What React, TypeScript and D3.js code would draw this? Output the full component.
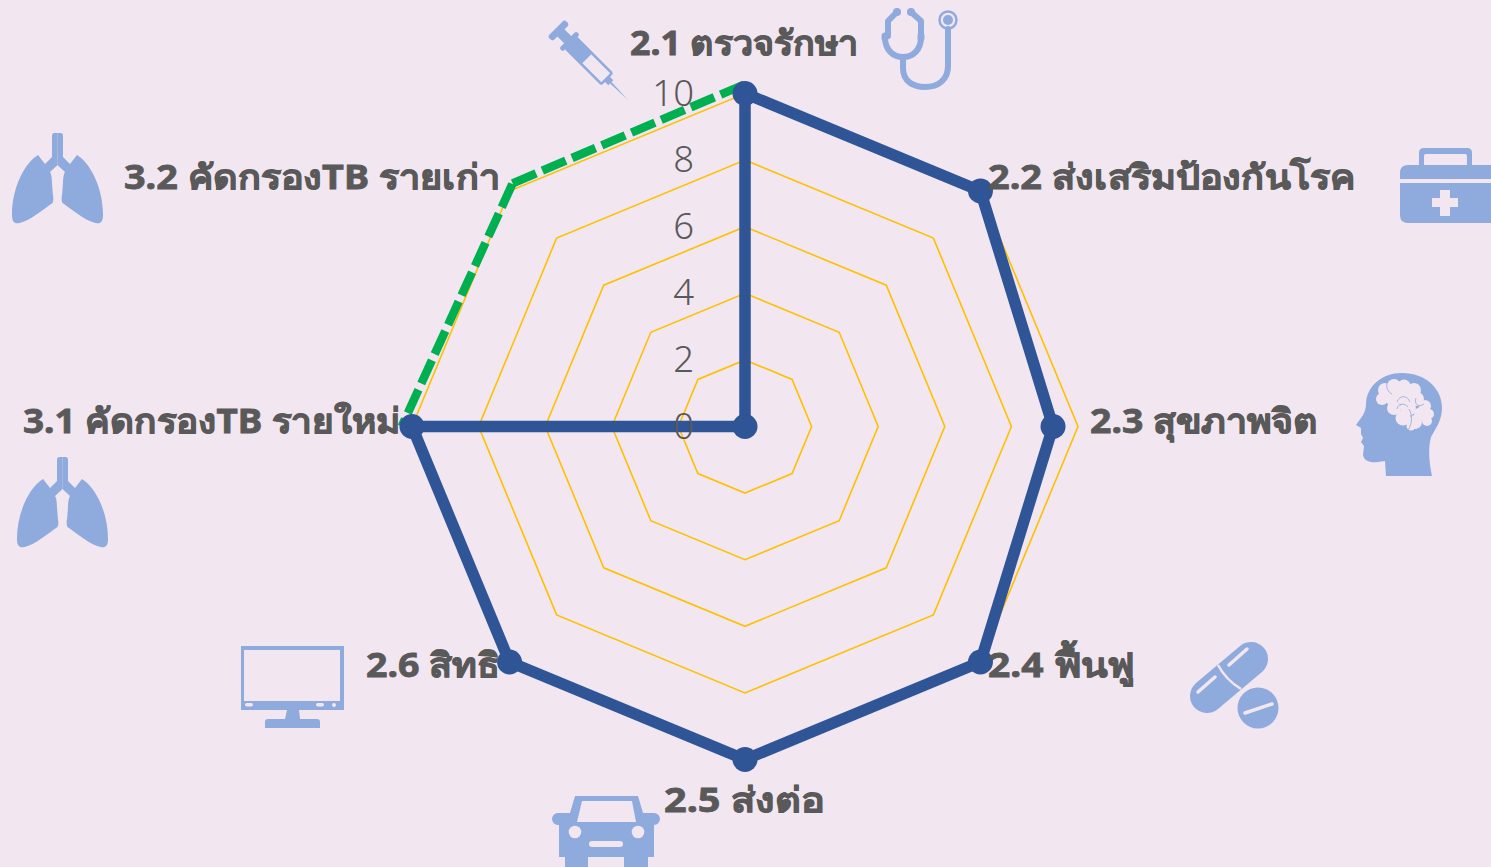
// App.tsx
import React, { useEffect, useRef } from "react";
import * as d3 from "d3";

const categories = [
  "2.1 ตรวจรักษา",
  "2.2 ส่งเสริมป้องกันโรค",
  "2.3 สุขภาพจิต",
  "2.4 ฟื้นฟู",
  "2.5 ส่งต่อ",
  "2.6 สิทธิ",
  "3.1 คัดกรองTB รายใหม่",
  "3.2 คัดกรองTB รายเก่า",
];
const blueValues = [10, 10, 9.25, 10, 10, 10, 10, 0];
// the green overlay was laid by hand on the original, so it sits a little off the spokes
const greenValues = [10.31, 10.1, 10.28];
const greenAngles = [270, 316.3, 360];
const ticks = [0, 2, 4, 6, 8, 10];

// label placement: start x, baseline y, measured width
const labelLayout = [
  { x: 630, y: 55, w: 228 },
  { x: 988, y: 189, w: 368 },
  { x: 1090, y: 433, w: 227 },
  { x: 988, y: 677, w: 147 },
  { x: 664, y: 812, w: 160 },
  { x: 366, y: 677, w: 134 },
  { x: 23, y: 433, w: 377 },
  { x: 124, y: 189, w: 376 },
];

const BG = "#f2e6f0";
const ICON = "#8faadc";
const TEXT = "#595959";
const FONT = "'Noto Sans', 'Open Sans', sans-serif";

const Lungs = ({ x, y }: { x: number; y: number }) => {
  const half =
    "M0,0 L-3,0 Q-5.5,0 -5.5,3 L-5.5,24 L-12.5,31 L-19.5,22 C-33,30 -45.5,55 -45.5,82 C-45.5,89 -43,91 -38,90 C-28,88 -14,76 -5,70 C-3,66 -5,62 -5,56 C-6,48 -5,44 -7.5,39 L0,32 Z";
  return (
    <g transform={`translate(${x + 45.5},${y})`} fill={ICON}>
      <path d={half} />
      <path d={half} transform="scale(-1,1)" />
    </g>
  );
};

const brainBlobs = [
  [1385, 390, 7],
  [1394, 386, 7],
  [1404, 386, 6.5],
  [1414, 390, 7],
  [1382, 399, 6],
  [1392, 397, 8],
  [1404, 396, 9],
  [1417, 399, 7],
  [1425, 406, 6],
  [1429, 414, 5],
  [1394, 408, 7],
  [1408, 408, 8],
  [1421, 414, 7],
  [1403, 418, 7.5],
  [1415, 422, 7],
  [1427, 421, 5],
  [1411, 426, 4.5],
];

const Icons = () => (
  <g>
    {/* syringe */}
    <g transform="translate(558.5,30.5) rotate(45)" fill={ICON}>
      <rect x={-3.5} y={-12} width={7} height={24} rx={3} />
      <rect x={3} y={-5} width={13} height={10} />
      <rect x={13} y={-12} width={5} height={24} rx={2} />
      <path d="M17,-8.5 H40 V8.5 H17 Z" />
      <rect x={18} y={-7.5} width={50} height={15} rx={1.5} fill="none" stroke={ICON} strokeWidth={2.5} />
      <rect x={68} y={-3.5} width={6} height={7} />
      <path d="M74,-1 L98,0 L74,1 Z" />
    </g>
    {/* stethoscope */}
    <g fill="none" stroke={ICON} strokeWidth={6} strokeLinecap="round" strokeLinejoin="round">
      <path d="M897,12 L888,21 V36" />
      <path d="M911,12 L921,21 V36" />
      <path d="M885,37 C885,50 893,57 903,57 C913,57 921,50 921,37" />
      <path d="M903,57 V68 C903,82 914,87 925,87 C938,87 948,80 948,66 V29" />
      <path d="M885,36 V38 M921,36 V38" strokeWidth={7} />
      <circle cx={948} cy={20} r={8.5} strokeWidth={2.5} />
    </g>
    <circle cx={897} cy={12} r={4} fill={ICON} />
    <circle cx={911} cy={12} r={4} fill={ICON} />
    <circle cx={948} cy={20} r={5} fill={ICON} />
    {/* first aid kit */}
    <path
      fillRule="evenodd"
      fill={ICON}
      d="M1419,165 V153 Q1419,148 1424,148 H1467 Q1472,148 1472,153 V165 H1467 V156 Q1467,154 1465,154 H1426 Q1424,154 1424,156 V165 Z"
    />
    <path fill={ICON} d="M1408,165 H1491 V223 H1408 Q1400,223 1400,215 V173 Q1400,165 1408,165 Z" />
    <rect x={1400} y={179} width={91} height={4} fill={BG} />
    <path fill={BG} d="M1440,190 H1450 V198 H1458 V207 H1450 V216 H1440 V207 H1432 V198 H1440 Z" />
    {/* head with brain */}
    <path
      fill={ICON}
      d="M1432,476 C1429,462 1428,448 1431,437 C1436,428 1442,420 1442,408 C1442,388 1425,373 1402,373 C1382,373 1367,386 1366,403 C1366,410 1364,414 1361,418 L1356,425 L1361,428 L1361,434 L1363,438 L1361,442 L1364,446 L1363,455 C1364,461 1370,463 1378,462 L1385,461 L1386,476 Z"
    />
    <g fill={BG}>
      {brainBlobs.map(([cx, cy, r], i) => (
        <circle key={i} cx={cx} cy={cy} r={r} />
      ))}
    </g>
    <g fill="none" stroke={ICON} strokeWidth={0.8}>
      <path d="M1397,402 C1400,394 1408,396 1410,402" />
      <path d="M1397,409 C1398,403 1405,403 1408,407" />
      <path d="M1409,409 C1413,416 1412,424 1408,430" />
      <path d="M1416,398 C1414,404 1418,408 1424,404" />
      <path d="M1387,383 C1386,388 1388,392 1392,394" />
    </g>
    {/* capsule and tablet */}
    <line x1={1207} y1={696} x2={1251} y2={659} stroke={ICON} strokeWidth={34} strokeLinecap="round" />
    <path d="M1218,665 Q1226,680 1241,689" fill="none" stroke={BG} strokeWidth={2.5} />
    <line x1={1198} y1={692} x2={1215} y2={677} stroke={BG} strokeWidth={3.5} strokeLinecap="round" />
    <line x1={1229} y1={665} x2={1247} y2={649} stroke={BG} strokeWidth={3.5} strokeLinecap="round" />
    <circle cx={1258} cy={708} r={20.5} fill={ICON} />
    <line x1={1245} y1={713} x2={1272} y2={704} stroke={BG} strokeWidth={3.5} strokeLinecap="round" />
    {/* monitor */}
    <rect x={241} y={646} width={103} height={64} fill={ICON} />
    <rect x={244} y={650} width={96} height={51} fill={BG} />
    <rect x={245} y={703} width={8} height={3.5} rx={1.7} fill={BG} />
    <rect x={316} y={703} width={8} height={3.5} rx={1.7} fill={BG} />
    <circle cx={334} cy={705} r={2} fill={BG} />
    <path fill={ICON} d="M287,710 H299 L300,719 H317 Q320,719 320,722 V728 H265 V722 Q265,719 268,719 H285 Z" />
    {/* car */}
    <path
      fill={ICON}
      d="M575,796 H638 L643,813 H654 A6,6 0 0 1 654,825 V857 H648 V867 H624 V857 H588 V867 H565 V857 H559 V825 H558 A6,6 0 0 1 558,813 H570 Z"
    />
    <path fill={BG} d="M582,801 H632 L636,822 H577 Z" />
    <circle cx={575} cy={832} r={6.3} fill={BG} />
    <circle cx={638} cy={832} r={6.3} fill={BG} />
    <rect x={589} y={841} width={34} height={6} rx={3} fill={BG} />
    <Lungs x={12} y={133} />
    <Lungs x={17} y={457} />
  </g>
);

const App = () => {
  const plotRef = useRef<SVGGElement>(null);

  useEffect(() => {
    const g = d3.select(plotRef.current);
    g.selectAll("*").remove();

    const cx = 745;
    const cy = 426.5;
    const r = d3.scaleLinear().domain([0, 10]).range([0, 333]);
    const angle = d3.scaleLinear().domain([0, 360]).range([0, 2 * Math.PI]);
    const step = 360 / categories.length;

    const plot = g.append("g").attr("transform", `translate(${cx},${cy})`);

    const radial = d3
      .lineRadial<[number, number]>()
      .angle((d) => angle(d[0]))
      .radius((d) => r(d[1]))
      .curve(d3.curveLinearClosed);

    // grid rings
    plot
      .selectAll(".ring")
      .data(ticks.slice(1))
      .enter()
      .append("path")
      .attr("class", "ring")
      .attr("d", (t) => radial(categories.map((_, i) => [i * step, t])))
      .attr("fill", "none")
      .attr("stroke", "#ffc000")
      .attr("stroke-width", 1.6);

    // blue series
    const bluePoints = blueValues.map((v, i) => [i * step, v] as [number, number]);
    plot
      .append("path")
      .attr("d", radial(bluePoints))
      .attr("fill", "none")
      .attr("stroke", "#2f5597")
      .attr("stroke-width", 11.5)
      .attr("stroke-linejoin", "round");

    // green dashed series, runs 3.1 -> 3.2 -> 2.1, the dash pattern restarts at the corner
    const greenPoints = greenValues.map((v, i) => [greenAngles[i], v] as [number, number]);
    const openLine = radial.curve(d3.curveLinear);
    [
      { pts: greenPoints.slice(0, 2), offset: 17.35 },
      { pts: greenPoints.slice(1, 3), offset: 0 },
    ].forEach((seg) => {
      plot
        .append("path")
        .attr("d", openLine(seg.pts))
        .attr("fill", "none")
        .attr("stroke", "#00b050")
        .attr("stroke-width", 8.5)
        .attr("stroke-dasharray", "25.5 6.8")
        .attr("stroke-dashoffset", seg.offset);
    });

    // markers
    plot
      .selectAll(".dot")
      .data(bluePoints)
      .enter()
      .append("circle")
      .attr("class", "dot")
      .attr("cx", (d) => r(d[1]) * Math.sin(angle(d[0])))
      .attr("cy", (d) => -r(d[1]) * Math.cos(angle(d[0])))
      .attr("r", 12.5)
      .attr("fill", "#2f5597");

    // radial axis labels
    plot
      .append("g")
      .call(d3.axisLeft(d3.scaleLinear().domain([0, 10]).range([0, -333])).tickValues(ticks).tickSize(0).tickPadding(51))
      .call((a) => a.select(".domain").remove())
      .selectAll("text")
      .attr("font-family", FONT)
      .attr("font-weight", 350)
      .attr("font-size", 36.5)
      .attr("fill", TEXT);

    // category labels
    g.selectAll(".cat")
      .data(categories)
      .enter()
      .append("text")
      .attr("class", "cat")
      .attr("x", (_, i) => labelLayout[i].x)
      .attr("y", (_, i) => labelLayout[i].y)
      .attr("textLength", (_, i) => labelLayout[i].w)
      .attr("lengthAdjust", "spacingAndGlyphs")
      .attr("font-family", FONT)
      .attr("font-weight", 700)
      .attr("font-size", 34)
      .attr("fill", TEXT)
      .attr("stroke", TEXT)
      .attr("stroke-width", 0.8)
      .text((d) => d);
  }, []);

  return (
    <svg width={1491} height={867} style={{ position: "absolute", left: 0, top: 0, display: "block" }}>
      <rect width={1491} height={867} fill={BG} />
      <Icons />
      <g ref={plotRef} />
    </svg>
  );
};

export default App;
